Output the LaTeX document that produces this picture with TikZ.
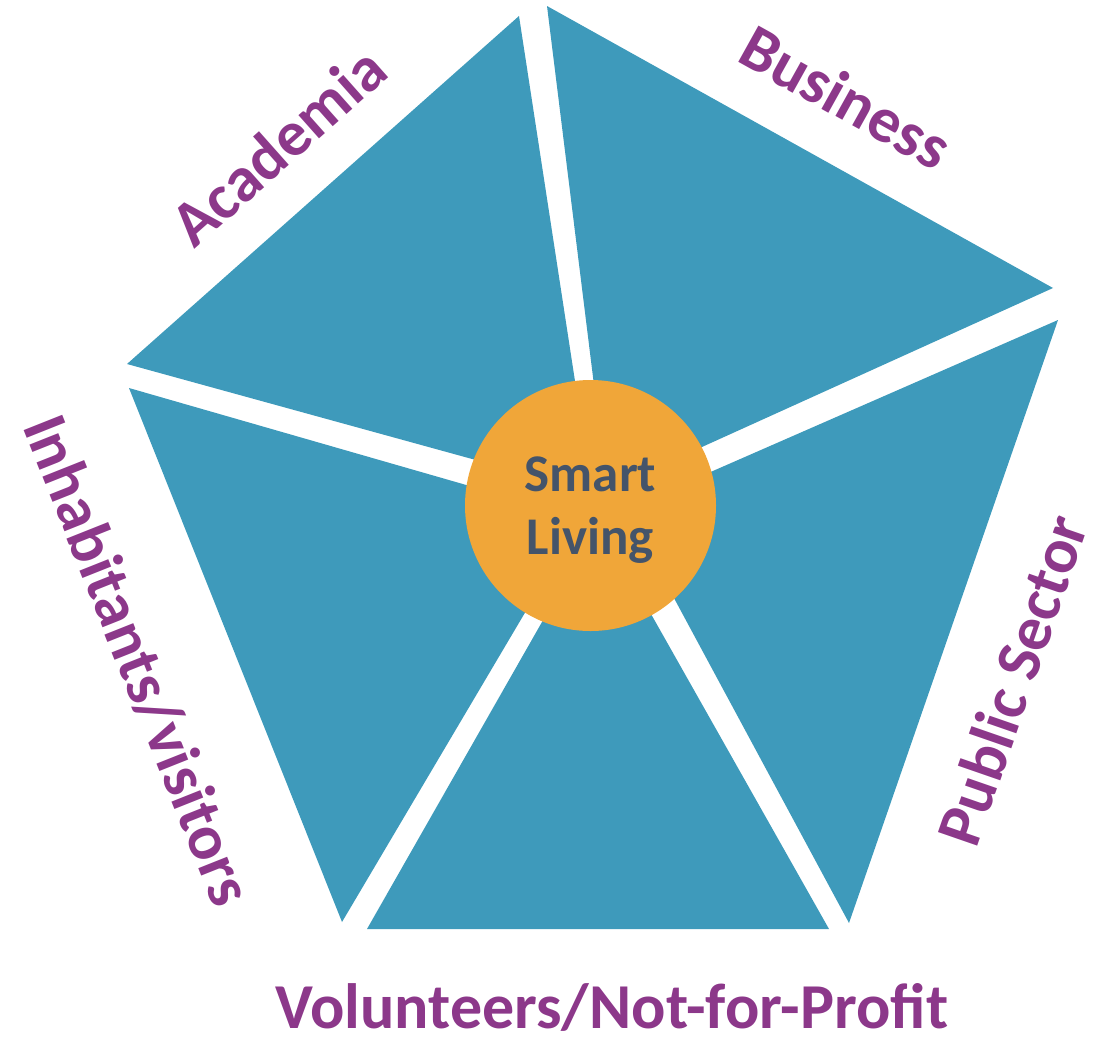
\documentclass[tikz,border=0pt]{standalone}
\usepackage{fontspec}
\setmainfont{Carlito}
\definecolor{teal1}{RGB}{62,154,187}
\definecolor{orng}{RGB}{240,166,57}
\definecolor{purp}{RGB}{140,56,138}
\definecolor{slate}{RGB}{68,84,106}
\begin{document}
\begin{tikzpicture}[x=1pt,y=-1pt,
  wedge/.style={fill=teal1,draw=none},
  lbl/.style={text=purp,font=\fontsize{64}{66}\selectfont\bfseries,inner sep=0pt},
  hub/.style={circle,fill=orng,draw=none,minimum size=251pt,inner sep=0pt},
  hubtxt/.style={align=center,text=slate,font=\fontsize{53}{63}\selectfont\bfseries,inner sep=0pt}]
\useasboundingbox (0,0) rectangle (1097,1039);
% wedges
\fill[wedge] (127,364) -- (519,16) -- (592,492) -- cycle;
\fill[wedge] (547,6) -- (1053,288) -- (607,490) -- cycle;
\fill[wedge] (1058,320) -- (849,923) -- (626,509) -- cycle;
\fill[wedge] (367,929) -- (829,929) -- (599,522) -- cycle;
\fill[wedge] (129,388) -- (342,922) -- (581,518) -- cycle;
% hub
\node[hub] (hub) at (590.5,505.5) {};
\node[hubtxt] (hubtext) at (590.5,510) {Smart\\Living};
% labels
\node[lbl,rotate=41.6] (acad) at (278,146) {Academia};
\node[lbl,rotate=-29.1] (bus) at (846,97) {Business};
\node[lbl,rotate=70.9] (pub) at (1012,680) {Public Sector};
\node[lbl] (vol) at (612,1007) {Volunteers/Not-for-Profit};
\node[lbl,rotate=-68.3] (inh) at (138,660) {Inhabitants/visitors};
\end{tikzpicture}
\end{document}
